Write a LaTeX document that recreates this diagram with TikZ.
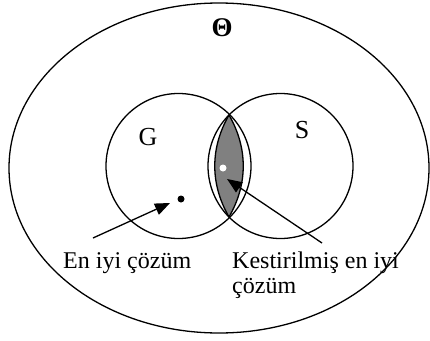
\documentclass[tikz,border=0pt]{standalone}
\usepackage{fontspec}
\setmainfont{Liberation Serif}
\usetikzlibrary{arrows.meta}
\begin{document}
\begin{tikzpicture}[x=1pt,y=-1pt,
  line/.style={line width=1.3pt},
  lbl/.style={font=\fontsize{24}{25}\selectfont, inner sep=0pt, anchor=base west},
  setlbl/.style={font=\fontsize{26}{28}\selectfont, inner sep=0pt},
  ptr/.style={line width=1.3pt, -{Triangle[length=15pt,width=12pt]}}]
\useasboundingbox (0,0) rectangle (430,340);
\draw[line] (219,168) ellipse [x radius=210, y radius=165];
\draw[line] (178.5,166) circle [radius=72.5];
\draw[line] (280.5,166) circle [radius=72.5];
\coordinate (ltop) at (229,115);
\coordinate (lbot) at (229,217);
\draw[line, fill={rgb,255:red,128;green,128;blue,128}]
  (ltop) .. controls (210,148) and (210,184) .. (lbot)
         .. controls (248,184) and (248,148) .. (ltop) -- cycle;
\node[circle, fill=black, inner sep=0pt, minimum size=7pt] (best) at (181,199) {};
\node[circle, fill=white, inner sep=0pt, minimum size=7pt] (est) at (223,168) {};
\node[font=\fontsize{27}{28}\selectfont\bfseries, inner sep=0pt] (theta) at (222,28) {Θ};
\node[setlbl] (G) at (148,137) {G};
\node[setlbl] (S) at (302,130) {S};
\node[lbl] (t1) at (63,268) {En iyi çözüm};
\node[lbl] (t2) at (232,268) {Kestirilmiş en iyi};
\node[lbl] (t3) at (232,293) {çözüm};
\coordinate (a1) at (93,238);
\coordinate (a1t) at (170,203);
\coordinate (a2) at (322,243);
\coordinate (a2t) at (227,179);
\draw[ptr] (a1) -- (a1t);
\draw[ptr] (a2) -- (a2t);
\end{tikzpicture}
\end{document}
